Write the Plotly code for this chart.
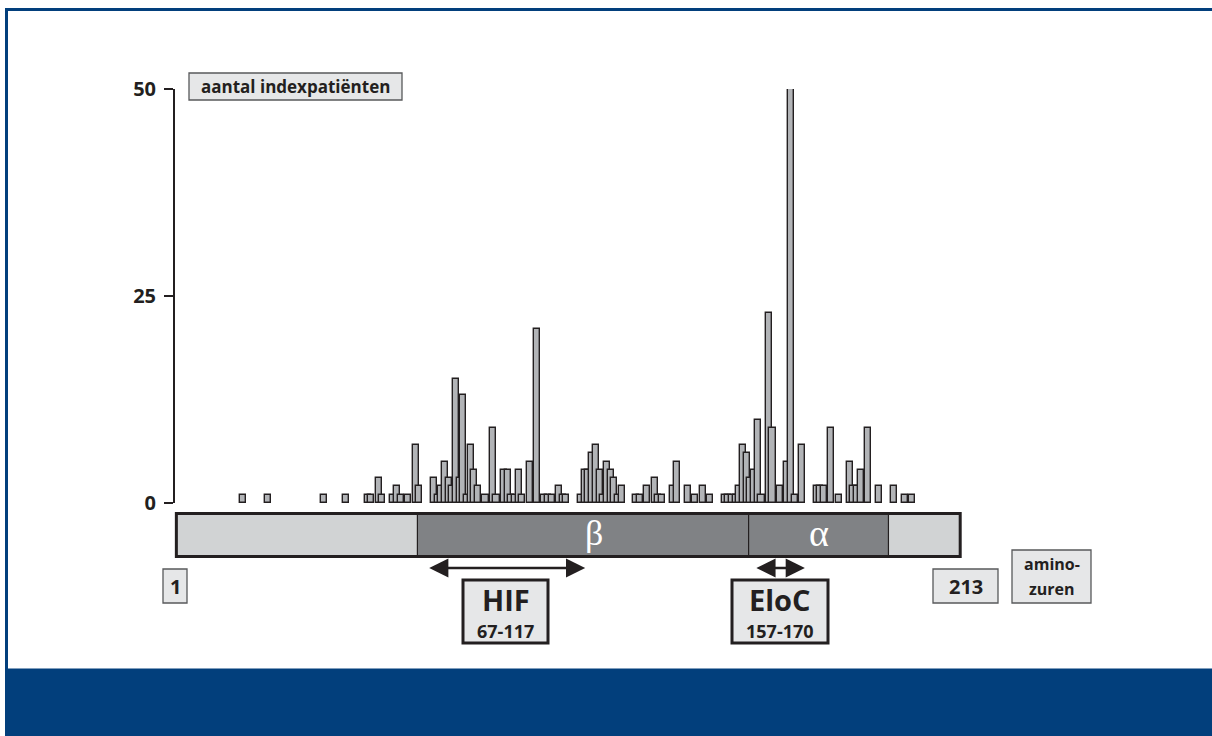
import plotly.graph_objects as go

W, H = 1212, 736

# ---------------- data ----------------
residues = [18, 25, 40, 46, 52, 53, 55, 56, 59, 60, 61, 63, 65, 66,
            70, 71, 72, 73, 74, 75, 76, 77, 78, 79, 80, 81, 82, 84, 86, 87, 89, 90, 91, 92, 93, 94, 96, 98,
            100, 101, 102, 104, 105, 106,
            110, 111, 112, 113, 114, 115, 116, 117, 118, 119, 120, 121,
            125, 126, 128, 130, 131, 132, 135, 136, 139, 141, 143, 145,
            149, 150, 151, 152, 153, 154, 155, 156, 157, 158, 159, 161, 162, 164, 166, 167, 168, 170,
            174, 175, 176, 178, 180, 183, 184, 185, 186, 188, 191, 195, 198, 200]
patients = [1, 1, 1, 1, 1, 1, 3, 1, 1, 2, 1, 1, 7, 2,
            3, 1, 2, 5, 3, 2, 15, 3, 13, 1, 7, 4, 2, 1, 9, 1, 4, 4, 1, 1, 4, 1, 5, 21,
            1, 1, 1, 2, 1, 1,
            1, 4, 4, 6, 7, 4, 1, 5, 4, 3, 1, 2,
            1, 1, 2, 3, 1, 1, 2, 5, 2, 1, 2, 1,
            1, 1, 1, 1, 2, 7, 6, 3, 4, 10, 1, 23, 9, 2, 5, 50, 1, 7,
            2, 2, 2, 9, 1, 5, 2, 2, 4, 9, 2, 2, 1, 1]
y_ticks = [0, 25, 50]
y_title = "aantal indexpatiënten"
x_title_lines = ["amino-", "zuren"]
protein_extent = [0, 213]
end_labels = ["1", "213"]
domain_names = ["β", "α"]
domain_start = [65.5, 155.5]
domain_end = [155.5, 193.5]
binding_names = ["HIF", "EloC"]
binding_ranges = ["67-117", "157-170"]
arrow_from = [68.3, 157.2]
arrow_to = [111.1, 170.8]

# ---------------- styling ----------------
INK = "#231f20"
BAR_FILL = "#b2b4b7"
LIGHT = "#d1d3d4"
DARK = "#808285"
BOXFILL = "#e6e7e8"
BLUE = "#023f7c"
FONT = "Open Sans"

# horizontal scale: residue -> pixel (calibrated on the picture)
S = 3.68
X0 = 537.0
def r_of(px):
    return 98 + (px - X0) / S

def pxx(px):
    return px / W

def pyy(py):
    return 1 - py / H

fig = go.Figure()
fig.add_trace(go.Bar(
    x=residues, y=patients, width=1.65,
    marker=dict(color=BAR_FILL, line=dict(color=INK, width=1.4)),
    cliponaxis=False, showlegend=False, hoverinfo="x+y"))
fig.add_trace(go.Scatter(x=[], y=[], xaxis="x2", yaxis="y2",
                         showlegend=False, hoverinfo="skip"))

shapes = []
# blue frame
shapes.append(dict(type="rect", xref="paper", yref="paper", x0=pxx(5), x1=pxx(W), y0=pyy(11), y1=pyy(8),
                   fillcolor=BLUE, line=dict(width=0)))
shapes.append(dict(type="rect", xref="paper", yref="paper", x0=pxx(5), x1=pxx(8), y0=pyy(H), y1=pyy(8),
                   fillcolor=BLUE, line=dict(width=0)))
shapes.append(dict(type="rect", xref="paper", yref="paper", x0=pxx(5), x1=pxx(W), y0=pyy(H), y1=pyy(668.5),
                   fillcolor=BLUE, line=dict(width=0)))

# protein bar
PT, PB = 513.5, 556.5
shapes.append(dict(type="rect", xref="x2", yref="y2", x0=protein_extent[0], x1=protein_extent[1],
                   y0=PT, y1=PB, fillcolor=LIGHT, line=dict(width=0)))
for s0, s1 in zip(domain_start, domain_end):
    shapes.append(dict(type="rect", xref="x2", yref="y2", x0=s0, x1=s1, y0=PT, y1=PB,
                       fillcolor=DARK, line=dict(color=INK, width=1.2)))
shapes.append(dict(type="rect", xref="x2", yref="y2", x0=protein_extent[0], x1=protein_extent[1],
                   y0=PT, y1=PB, fillcolor="rgba(0,0,0,0)", line=dict(color=INK, width=3)))

annotations = []
for name, s0, s1 in zip(domain_names, domain_start, domain_end):
    annotations.append(dict(xref="x2", yref="y2", x=(s0 + s1) / 2 + (3 if name == "β" else 0), y=533,
                            text=name, showarrow=False,
                            font=dict(family="Liberation Serif", size=38 if name == "α" else 36, color="white")))

# label boxes (paper coordinates)
def box(x0, y0, x1, y1, lw, lc):
    shapes.append(dict(type="rect", xref="paper", yref="paper", x0=pxx(x0), x1=pxx(x1),
                       y0=pyy(y1), y1=pyy(y0), fillcolor=BOXFILL, line=dict(color=lc, width=lw)))

def text(x, y, t, size):
    annotations.append(dict(xref="paper", yref="paper", x=pxx(x), y=pyy(y), text=t, showarrow=False,
                            xanchor="center", yanchor="middle",
                            font=dict(family=FONT, size=size, color=INK, weight="bold")))

box(189, 73, 402, 100, 1.3, "#58595b")
text(295.5, 86.5, y_title, 17)

box(163, 569, 187, 603, 1.3, "#58595b")
text(175, 586, end_labels[0], 20)
box(933, 569, 998, 603, 1.3, "#58595b")
text(965.5, 586, end_labels[1], 20)
box(1012, 550, 1091, 603, 1.3, "#58595b")
text(1051.5, 564, x_title_lines[0], 16)
text(1051.5, 589, x_title_lines[1], 16)

box_x = [(463, 548), (732, 828)]
for (bx0, bx1), name, rng in zip(box_x, binding_names, binding_ranges):
    box(bx0, 580, bx1, 643, 3, INK)
    text((bx0 + bx1) / 2, 599, name, 29)
    text((bx0 + bx1) / 2, 630.5, rng, 18)

for a0, a1 in zip(arrow_from, arrow_to):
    annotations.append(dict(xref="x2", yref="y2", axref="x2", ayref="y2",
                            x=a1, y=568, ax=a0, ay=568, text="", showarrow=True,
                            arrowhead=2, startarrowhead=2, arrowside="end+start",
                            arrowsize=1.6, startarrowsize=1.6, arrowwidth=2.4, arrowcolor=INK))

fig.update_layout(
    width=W, height=H,
    margin=dict(l=0, r=0, t=0, b=0, pad=0, autoexpand=False),
    paper_bgcolor="white", plot_bgcolor="rgba(0,0,0,0)",
    barmode="overlay", bargap=0,
    showlegend=False,
    xaxis=dict(domain=[175 / W, 961 / W], range=[r_of(175), r_of(961)], visible=False,
               anchor="y", automargin=False),
    yaxis=dict(domain=[1 - 503 / H, 1 - 89 / H], range=[0, 50], tickvals=y_ticks,
               ticks="outside", ticklen=9, tickwidth=2, tickcolor=INK,
               showline=True, linecolor=INK, linewidth=2, showgrid=False, zeroline=False,
               tickfont=dict(family=FONT, size=20, color=INK, weight="bold"),
               ticklabelstandoff=4, anchor="x", automargin=False),
    xaxis2=dict(domain=[0, 1], range=[r_of(0), r_of(W)], visible=False, anchor="y2", automargin=False),
    yaxis2=dict(domain=[0, 1], range=[H, 0], visible=False, anchor="x2", automargin=False),
    shapes=shapes,
    annotations=annotations,
)

fig.write_html(
    "out.html", config={"displayModeBar": False},
    post_script=("document.body.style.margin='0';"
                 "document.documentElement.style.overflow='hidden';"))
